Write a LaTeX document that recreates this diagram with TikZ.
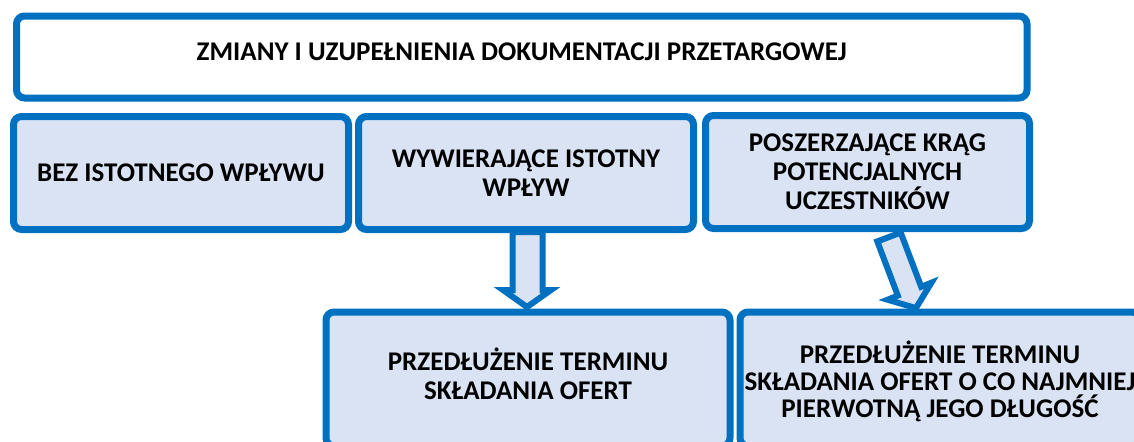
\documentclass[tikz,border=0pt]{standalone}
\usepackage{fontspec}
\setmainfont{Carlito}
\definecolor{bord}{HTML}{0070C0}
\definecolor{lfill}{HTML}{DAE3F3}
\begin{document}
\begin{tikzpicture}[x=0.5pt,y=-0.5pt,
  txt/.style={align=center,font=\bfseries\fontsize{13.5}{14.5}\selectfont,inner sep=0pt},
  box/.style={txt,draw=bord,line width=3.5pt,rounded corners=4pt},
  lbox/.style={box,fill=lfill},
  barrow/.style={draw=bord,fill=lfill,line width=3pt,line join=miter}]
\clip (0,0) rectangle (1134,441);
\fill[white] (0,0) rectangle (1134,441);
\node[box,fill=white,minimum width=505.25pt,minimum height=41pt,
  label={[txt,yshift=2.8pt]center:ZMIANY I UZUPEŁNIENIA DOKUMENTACJI PRZETARGOWEJ}] (top) at (521.75,57) {};
\node[lbox,minimum width=167.5pt,minimum height=56.5pt] (b1) at (181,173) {BEZ ISTOTNEGO WPŁYWU};
\node[lbox,minimum width=167.5pt,minimum height=56.5pt] (b2) at (526,173) {WYWIERAJĄCE ISTOTNY\\WPŁYW};
\node[lbox,minimum width=162pt,minimum height=56.5pt] (b3) at (867.5,172) {POSZERZAJĄCE KRĄG\\POTENCJALNYCH\\UCZESTNIKÓW};
\node[lbox,minimum width=202pt,minimum height=67pt,
  label={[txt,yshift=2.8pt]center:PRZEDŁUŻENIE TERMINU\\SKŁADANIA OFERT}] (b4) at (528,379) {};
\node[lbox,minimum width=200pt,minimum height=67pt,
  label={[txt,font=\bfseries\fontsize{13.5}{13.5}\selectfont,yshift=-1pt]center:PRZEDŁUŻENIE TERMINU\\SKŁADANIA OFERT O CO NAJMNIEJ\\PIERWOTNĄ JEGO DŁUGOŚĆ}] (b5) at (940,379) {};
% block arrow b2 -> b4
\draw[barrow] (512.5,232) -- (542.5,232) -- (542.5,290) -- (551,290) -- (527,307) -- (503,290) -- (512.5,290) -- cycle;
% block arrow b3 -> b5
\draw[barrow] (900.7,232.6) -- (921.2,286.8) -- (931.4,282.7) -- (915.9,308.1) -- (887.6,299.7) -- (897.8,295.6) -- (877.3,241.4) -- cycle;
\end{tikzpicture}
\end{document}
